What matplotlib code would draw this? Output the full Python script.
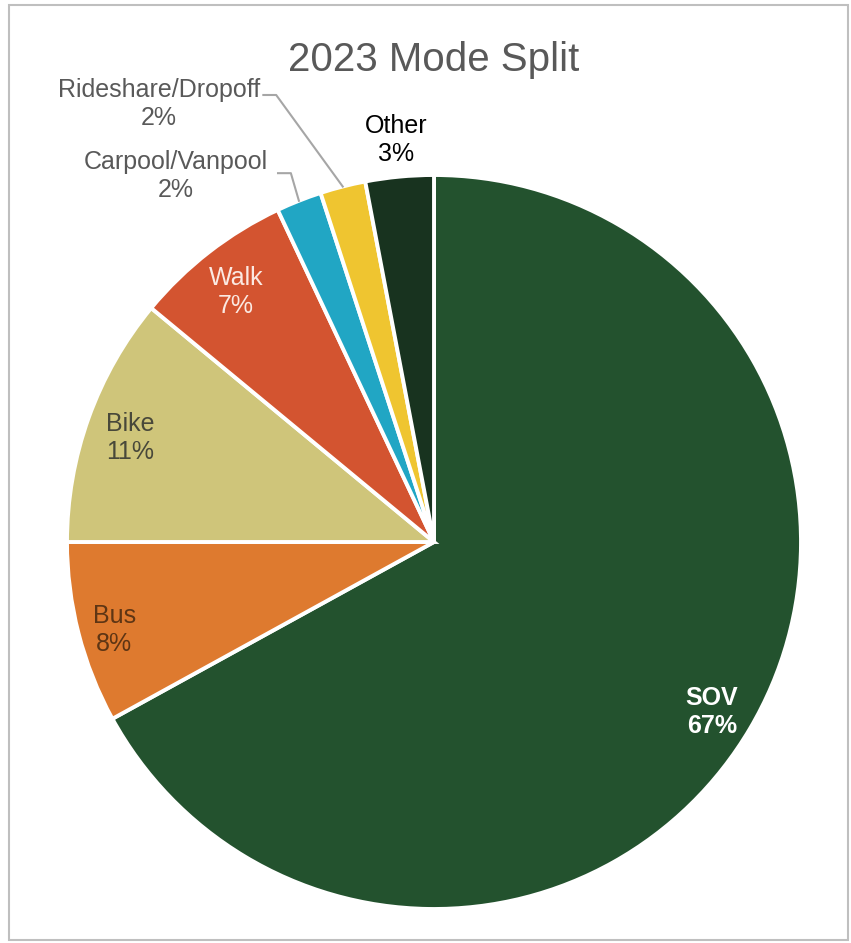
import numpy as np
import matplotlib.pyplot as plt
from matplotlib.patches import Rectangle

modes = ["SOV", "Bus", "Bike", "Walk", "Carpool/Vanpool", "Rideshare/Dropoff", "Other"]
shares = [67, 8, 11, 7, 2, 2, 3]
colors = ["#23522e", "#de7a2f", "#cfc57a", "#d35430", "#21a6c4", "#efc530", "#18331f"]
text_colors = ["#ffffff", "#5e3514", "#48483a", "#fbe9e2", "#595959", "#595959", "#000000"]

plt.rcParams['font.family'] = ['Liberation Sans', 'DejaVu Sans']

W, H = 851, 943
fig = plt.figure(figsize=(W / 100, H / 100), dpi=100)
ax = fig.add_axes([0, 0, 1, 1])

wedges, _ = ax.pie(shares, colors=colors, startangle=90, counterclock=False,
                   wedgeprops=dict(edgecolor="white", linewidth=2.8))

# pie center / radius in pixels
cx, cy, r = 434, 542, 367
ax.set_xlim(-cx / r, (W - cx) / r)
ax.set_ylim((cy - H) / r, cy / r)

fs = 18
for i, (w, name, val) in enumerate(zip(wedges, modes, shares)):
    mid = np.deg2rad((w.theta1 + w.theta2) / 2)
    label = f"{name}\n{val}%"
    if name in ("SOV", "Bus", "Bike", "Walk"):
        d = 0.88 if name != "Bus" else 0.9
        ax.text(d * np.cos(mid), d * np.sin(mid) - 0.015, label, ha="center", va="center",
                fontsize=fs, color=text_colors[i],
                fontweight="bold" if name == "SOV" else "normal", linespacing=1.2)
    elif name == "Other":
        d = 1.1
        ax.text(d * np.cos(mid), d * np.sin(mid), label, ha="center", va="center",
                fontsize=fs, color=text_colors[i], linespacing=1.2)
    else:
        # labels pulled out to the left with a leader line
        if name == "Rideshare/Dropoff":
            tx, ty, x0, ly = -0.750, 1.193, -0.465, 1.218
        else:
            tx, ty, x0, ly = -0.704, 0.997, -0.425, 1.005
        ax.text(tx, ty, label, ha="center", va="center", fontsize=fs,
                color=text_colors[i], linespacing=1.2)
        ex, ey = np.cos(mid), np.sin(mid)
        ax.plot([x0, x0 + 0.035, ex], [ly, ly, ey], color="#a6a6a6", lw=1.5)

fig.text(cx / W, 1 - 60 / H, "2023 Mode Split", ha="center", va="center",
         fontsize=29, color="#595959")

fig.add_artist(Rectangle((9 / W, 3 / H), 839 / W, 935 / H, transform=fig.transFigure,
                         fill=False, edgecolor="#bfbfbf", lw=1.5))

fig.savefig("out.png", dpi=100)
